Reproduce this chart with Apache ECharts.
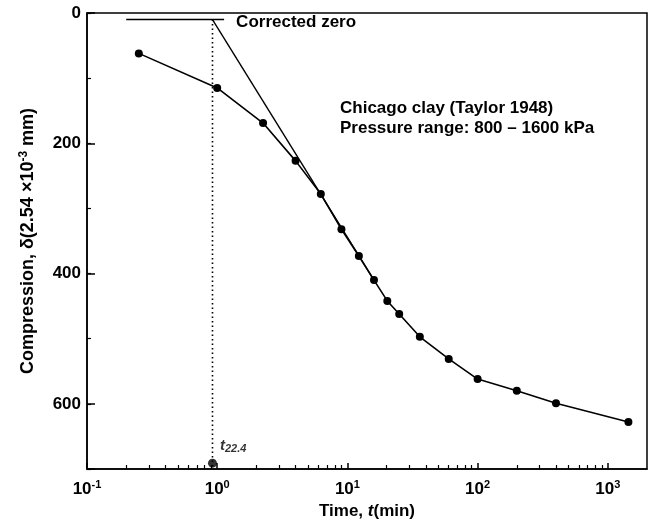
<!DOCTYPE html>
<html>
<head>
<meta charset="utf-8">
<script src="https://cdn.jsdelivr.net/npm/echarts@6/dist/echarts.min.js"></script>
<style>
  html, body { margin: 0; padding: 0; background: #fff; }
  #chart { width: 657px; height: 520px; }
</style>
</head>
<body>
<div id="chart"></div>
<script>
// Time–compression readings, Chicago clay, 800–1600 kPa increment
const timeMin = [0.25, 1, 2.25, 4, 6.25, 9, 12.25, 16, 20.25, 25, 36, 60, 100, 200, 400, 1440];
const compression = [62, 115, 169, 227, 278, 332, 373, 410, 442, 462, 497, 531, 562, 580, 599, 628];

// Corrected-zero construction
const correctedZero = 10;
const zeroLineTimes = [0.2, 1.13];
const tMark = 0.92;
const tangentTimes = [0.92, 16];
const tangentValues = [10, 410];
const tMarkBottom = 691;

// Axis ticks
const xMajorTicks = [0.1, 1, 10, 100, 1000];
const xMinorTicks = [0.2, 0.3, 0.4, 0.5, 0.6, 0.7, 0.8, 0.9,
                     2, 3, 4, 5, 6, 7, 8, 9,
                     20, 30, 40, 50, 60, 70, 80, 90,
                     200, 300, 400, 500, 600, 700, 800, 900];
const yLabels = [0, 200, 400, 600];

const FONT = '"Liberation Sans", Arial, sans-serif';
const INK = '#000';
const bold = { fontFamily: FONT, fontWeight: 'bold', color: INK };

const chart = echarts.init(document.getElementById('chart'), null, { renderer: 'canvas' });

const xBase = {
  type: 'log', logBase: 10, min: 0.1, max: 2000, gridIndex: 0, position: 'bottom',
  splitLine: { show: false }
};
const yBase = {
  type: 'value', inverse: true, min: 0, max: 700, gridIndex: 0, position: 'left',
  splitLine: { show: false }
};

chart.setOption({
  animation: false,
  backgroundColor: '#fff',
  grid: {
    left: 87, right: 10, top: 13, bottom: 51,
    outerBoundsMode: 'none', containLabel: false,
    show: true, borderColor: INK, borderWidth: 1.5, backgroundColor: 'transparent'
  },
  xAxis: [
    Object.assign({}, xBase, {
      axisLine: { show: true, onZero: false, lineStyle: { color: INK, width: 1.5 } },
      axisTick: { show: true, inside: true, length: 6, customValues: xMajorTicks,
                  lineStyle: { color: INK, width: 1.5 } },
      axisLabel: {
        customValues: xMajorTicks,
        margin: 10,
        formatter: function (v) {
          const e = Math.round(Math.log10(v));
          if (Math.abs(Math.log10(v) - e) > 1e-6) return '';
          return '{b|10}{s|' + e + '}';
        },
        rich: {
          b: Object.assign({ fontSize: 17 }, bold),
          s: Object.assign({ fontSize: 11, padding: [0, 0, 9, 0] }, bold)
        }
      },
      name: '{n|Time, }{i|t}{n|(min)}',
      nameLocation: 'middle',
      nameGap: 30,
      nameTextStyle: {
        rich: {
          n: Object.assign({ fontSize: 17 }, bold),
          i: Object.assign({ fontSize: 17, fontStyle: 'italic' }, bold)
        }
      }
    }),
    Object.assign({}, xBase, {
      axisLine: { show: false, onZero: false },
      axisTick: { show: true, inside: true, length: 4, customValues: xMinorTicks,
                  lineStyle: { color: INK, width: 1.2 } },
      axisLabel: { show: false }
    })
  ],
  yAxis: [
    Object.assign({}, yBase, {
      interval: 100,
      axisLine: { show: true, lineStyle: { color: INK, width: 1.5 } },
      axisTick: { show: true, inside: true, length: 4, lineStyle: { color: INK, width: 1.2 } },
      axisLabel: Object.assign({
        fontSize: 17, margin: 6,
        formatter: function (v) { return yLabels.indexOf(v) >= 0 ? String(v) : ''; }
      }, bold),
      name: '{n|Compression, δ(2.54 ×10}{s|-3}{n| mm)}',
      nameLocation: 'middle',
      nameGap: 48,
      nameRotate: 90,
      nameTextStyle: {
        rich: {
          n: Object.assign({ fontSize: 18 }, bold),
          s: Object.assign({ fontSize: 12, padding: [0, 0, 9, 0] }, bold)
        }
      }
    }),
    Object.assign({}, yBase, {
      interval: 200,
      axisLine: { show: false },
      axisTick: { show: true, inside: true, length: 8, lineStyle: { color: INK, width: 1.5 } },
      axisLabel: { show: false }
    })
  ],
  graphic: [{
    type: 'text',
    left: 340, top: 98,
    style: {
      text: 'Chicago clay (Taylor 1948)\nPressure range: 800 – 1600 kPa',
      fontFamily: FONT, fontWeight: 'bold', fontSize: 17, lineHeight: 20, fill: INK
    }
  }],
  series: [
    {
      name: 'readings', type: 'line', xAxisIndex: 0, yAxisIndex: 0,
      data: timeMin.map(function (t, i) { return [t, compression[i]]; }),
      symbol: 'circle', symbolSize: 8,
      itemStyle: { color: INK },
      lineStyle: { color: INK, width: 1.6 },
      z: 4
    },
    {
      name: 'tangent', type: 'line', xAxisIndex: 0, yAxisIndex: 0,
      data: tangentTimes.map(function (t, i) { return [t, tangentValues[i]]; }),
      symbol: 'none',
      lineStyle: { color: INK, width: 1.4 },
      z: 3
    },
    {
      name: 'corrected zero', type: 'line', xAxisIndex: 0, yAxisIndex: 0,
      data: zeroLineTimes.map(function (t) { return [t, correctedZero]; }),
      symbol: 'none',
      lineStyle: { color: INK, width: 1.4 },
      endLabel: {
        show: true, distance: 12, offset: [0, 3], formatter: 'Corrected zero',
        fontFamily: FONT, fontWeight: 'bold', fontSize: 17, color: INK
      },
      z: 3
    },
    {
      name: 'tMark line', type: 'line', xAxisIndex: 0, yAxisIndex: 0,
      data: [[tMark, correctedZero], [tMark, 700]],
      symbol: 'none',
      lineStyle: { color: INK, width: 1.6, type: [1.5, 3] },
      z: 2
    },
    {
      name: 'tMark', type: 'scatter', xAxisIndex: 0, yAxisIndex: 0,
      data: [[tMark, tMarkBottom]],
      symbol: 'circle', symbolSize: 9,
      itemStyle: { color: INK },
      label: {
        show: true, position: [12, -22],
        formatter: '{t|t}{s|22.4}',
        rich: {
          t: { fontFamily: FONT, fontStyle: 'italic', fontWeight: 'bold', fontSize: 15, color: INK },
          s: { fontFamily: FONT, fontStyle: 'italic', fontWeight: 'bold', fontSize: 11, color: INK, padding: [7, 0, 0, 0] }
        }
      },
      z: 5
    }
  ]
});
</script>
</body>
</html>
